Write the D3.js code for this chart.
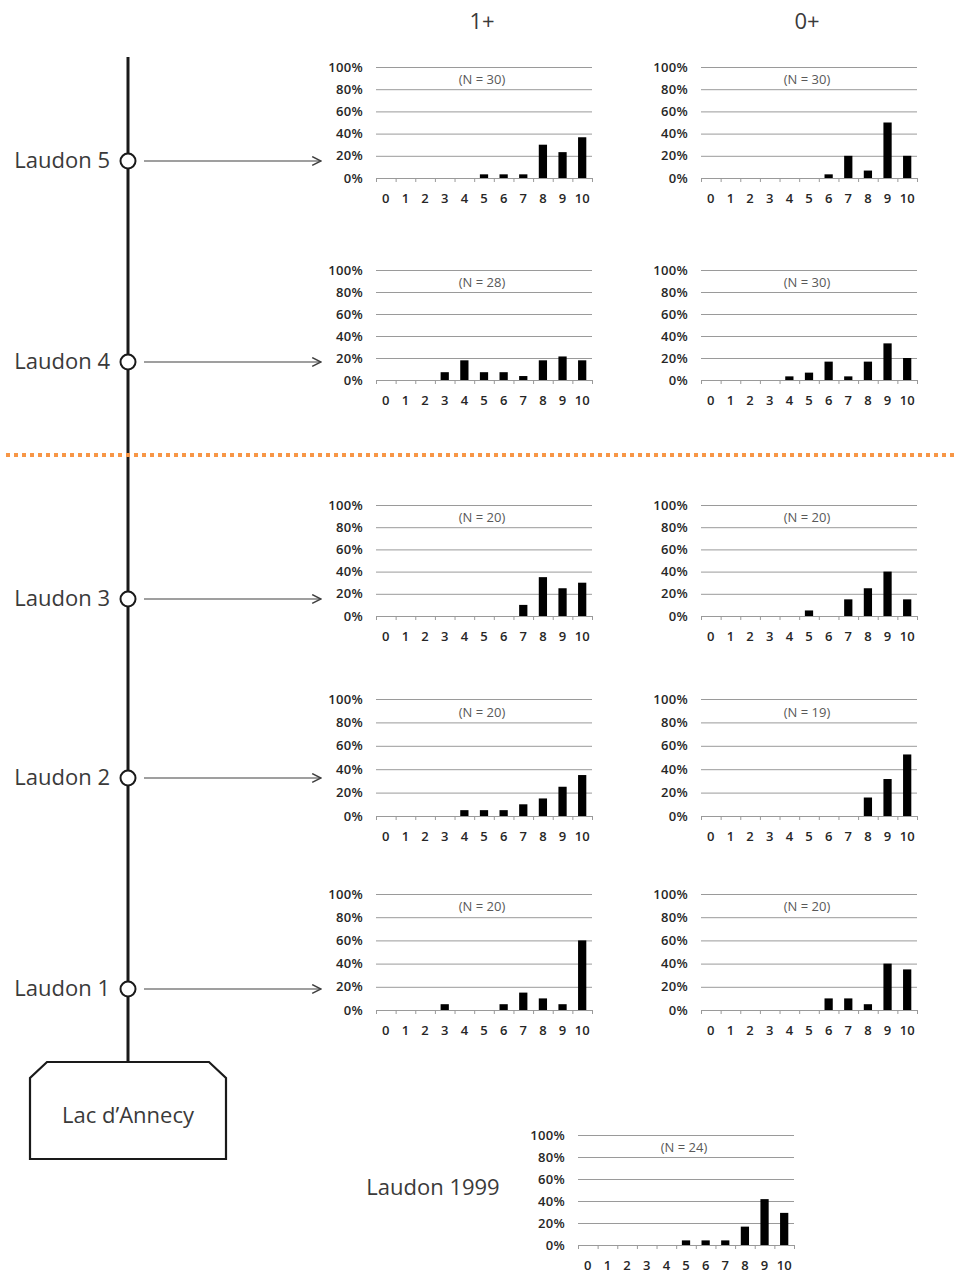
<!DOCTYPE html>
<html lang="en">
<head>
    <meta charset="UTF-8">
    <script src="https://d3js.org/d3.v7.min.js"></script>
    <style>
        body {
            margin: 0;
            padding: 0;
            background-color: #ffffff;
            font-family: 'Open Sans', sans-serif;
        }

        svg {
            display: block;
        }

        .grid line {
            stroke: #9a9a9a;
            stroke-width: 1;
        }

        .grid text {
            font-size: 13px;
            font-weight: 600;
            fill: #262626;
        }

        .xlab text {
            font-size: 13px;
            font-weight: 600;
            fill: #262626;
        }

        .xticks line,
        .xticks path {
            stroke: #9a9a9a;
        }

        .bar {
            fill: #000000;
        }

        .ncount {
            font-size: 13px;
            fill: #595959;
            text-anchor: middle;
        }

        .site {
            font-size: 22px;
            fill: #3a3a3a;
        }
    </style>
</head>
<body>
    <svg id="chart"></svg>

    <script>
        // Score classes on the x axis
        const scores = ["0", "1", "2", "3", "4", "5", "6", "7", "8", "9", "10"];
        const pctTicks = [0, 20, 40, 60, 80, 100];

        // Percent of fish per class
        const laudon5Age1 = [0, 0, 0, 0, 0, 3.3, 3.3, 3.3, 30, 23.3, 36.7];
        const laudon5Age0 = [0, 0, 0, 0, 0, 0, 3.3, 20, 6.7, 50, 20];
        const laudon4Age1 = [0, 0, 0, 7.1, 17.9, 7.1, 7.1, 3.6, 17.9, 21.4, 17.9];
        const laudon4Age0 = [0, 0, 0, 0, 3.3, 6.7, 16.7, 3.3, 16.7, 33.3, 20];
        const laudon3Age1 = [0, 0, 0, 0, 0, 0, 0, 10, 35, 25, 30];
        const laudon3Age0 = [0, 0, 0, 0, 0, 5, 0, 15, 25, 40, 15];
        const laudon2Age1 = [0, 0, 0, 0, 5, 5, 5, 10, 15, 25, 35];
        const laudon2Age0 = [0, 0, 0, 0, 0, 0, 0, 0, 15.8, 31.6, 52.6];
        const laudon1Age1 = [0, 0, 0, 5, 0, 0, 5, 15, 10, 5, 60];
        const laudon1Age0 = [0, 0, 0, 0, 0, 0, 10, 10, 5, 40, 35];
        const laudon1999 = [0, 0, 0, 0, 0, 4.2, 4.2, 4.2, 16.7, 41.7, 29.2];

        const sampleSizes = [30, 30, 28, 30, 20, 20, 20, 19, 20, 20, 24];
        const siteNames = ["Laudon 5", "Laudon 4", "Laudon 3", "Laudon 2", "Laudon 1"];
        const ageHeaders = ["1+", "0+"];

        const W = 957, H = 1274;
        const svg = d3.select("#chart").attr("width", W).attr("height", H);

        // layout of the small panels
        const colLeft = [376, 701];
        const plotW = 216;
        const rowSpans = [[67, 178], [270, 380], [505, 616], [699, 816], [894, 1010]];
        const siteY = [161, 362, 599, 778, 989];

        const seriesByRow = [
            [laudon5Age1, laudon5Age0],
            [laudon4Age1, laudon4Age0],
            [laudon3Age1, laudon3Age0],
            [laudon2Age1, laudon2Age0],
            [laudon1Age1, laudon1Age0]
        ];

        const panels = [];
        seriesByRow.forEach((pair, r) => {
            pair.forEach((vals, c) => {
                panels.push({
                    values: vals,
                    n: sampleSizes[r * 2 + c],
                    left: colLeft[c],
                    top: rowSpans[r][0],
                    bottom: rowSpans[r][1]
                });
            });
        });
        panels.push({ values: laudon1999, n: sampleSizes[10], left: 578, top: 1135, bottom: 1245 });

        function drawPanel(p) {
            const g = svg.append("g").attr("transform", `translate(${p.left},0)`);

            const x = d3.scaleBand()
                .domain(scores)
                .range([0, plotW])
                .paddingInner(0.58)
                .paddingOuter(0.29);

            const edges = d3.scaleLinear().domain([0, scores.length]).range([0, plotW]);

            const y = d3.scaleLinear().domain([0, 100]).range([p.bottom, p.top]);

            // gridlines + percent labels
            const grid = g.append("g")
                .attr("class", "grid")
                .call(d3.axisLeft(y)
                    .tickValues(pctTicks)
                    .tickFormat(d => d + "%")
                    .tickSize(-plotW)
                    .tickPadding(13));
            grid.select(".domain").remove();
            grid.selectAll("text")
                .attr("font-family", "'Open Sans', sans-serif")
                .attr("letter-spacing", "0.3px");

            // baseline with tick marks between classes
            g.append("g")
                .attr("class", "xticks")
                .attr("transform", `translate(0,${p.bottom})`)
                .call(d3.axisBottom(edges)
                    .tickValues(d3.range(scores.length + 1))
                    .tickFormat("")
                    .tickSize(4)
                    .tickSizeOuter(0));

            // class labels
            const xl = g.append("g")
                .attr("class", "xlab")
                .attr("transform", `translate(0,${p.bottom})`)
                .call(d3.axisBottom(x).tickSize(0).tickPadding(16));
            xl.select(".domain").remove();
            xl.selectAll("text").attr("font-family", "'Open Sans', sans-serif");

            // bars
            g.selectAll(".bar")
                .data(p.values.map((v, i) => ({ k: scores[i], v: v })).filter(d => d.v > 0))
                .enter()
                .append("rect")
                .attr("class", "bar")
                .attr("x", d => x(d.k))
                .attr("width", x.bandwidth())
                .attr("y", d => y(d.v))
                .attr("height", d => y(0) - y(d.v));

            g.append("text")
                .attr("class", "ncount")
                .attr("x", plotW / 2 - 2)
                .attr("y", y(85))
                .text(`(N = ${p.n})`);
        }

        panels.forEach(drawPanel);

        // column headers
        svg.selectAll(".hdr")
            .data(ageHeaders)
            .enter()
            .append("text")
            .attr("class", "site")
            .attr("text-anchor", "middle")
            .attr("x", (d, i) => colLeft[i] + plotW / 2 - 2)
            .attr("y", 29)
            .text(d => d);

        // river line
        svg.append("line")
            .attr("x1", 128).attr("x2", 128)
            .attr("y1", 57).attr("y2", 1062)
            .attr("stroke", "#1a1a1a")
            .attr("stroke-width", 3);

        // orange separator
        svg.append("line")
            .attr("x1", 6).attr("x2", 955)
            .attr("y1", 455).attr("y2", 455)
            .attr("stroke", "#f79646")
            .attr("stroke-width", 4)
            .attr("stroke-dasharray", "4,4");

        // arrows to panels
        svg.append("defs").append("marker")
            .attr("id", "arr")
            .attr("viewBox", "0 0 10 10")
            .attr("refX", 9).attr("refY", 5)
            .attr("markerWidth", 11).attr("markerHeight", 11)
            .attr("markerUnits", "userSpaceOnUse")
            .attr("orient", "auto")
            .append("path")
            .attr("d", "M1,1 L9,5 L1,9")
            .attr("fill", "none")
            .attr("stroke", "#404040")
            .attr("stroke-width", 1.4);

        svg.selectAll(".arrow")
            .data(siteY)
            .enter()
            .append("line")
            .attr("x1", 144).attr("x2", 321)
            .attr("y1", d => d).attr("y2", d => d)
            .attr("stroke", "#404040")
            .attr("stroke-width", 1.2)
            .attr("marker-end", "url(#arr)");

        // site nodes
        svg.selectAll(".node")
            .data(siteY)
            .enter()
            .append("circle")
            .attr("cx", 128)
            .attr("cy", d => d)
            .attr("r", 7.5)
            .attr("fill", "#ffffff")
            .attr("stroke", "#1a1a1a")
            .attr("stroke-width", 2);

        svg.selectAll(".sitelab")
            .data(siteNames)
            .enter()
            .append("text")
            .attr("class", "site")
            .attr("text-anchor", "end")
            .attr("x", 110)
            .attr("y", (d, i) => siteY[i] + 7)
            .text(d => d);

        // lake box
        svg.append("path")
            .attr("d", "M30,1159 L30,1078 L47,1062 L209,1062 L226,1078 L226,1159 Z")
            .attr("fill", "#ffffff")
            .attr("stroke", "#1a1a1a")
            .attr("stroke-width", 2.2);

        svg.append("text")
            .attr("class", "site")
            .attr("text-anchor", "middle")
            .attr("x", 128)
            .attr("y", 1123)
            .text("Lac d\u2019Annecy");

        svg.append("text")
            .attr("class", "site")
            .attr("text-anchor", "middle")
            .attr("x", 433)
            .attr("y", 1195)
            .text("Laudon 1999");
    </script>
</body>
</html>
